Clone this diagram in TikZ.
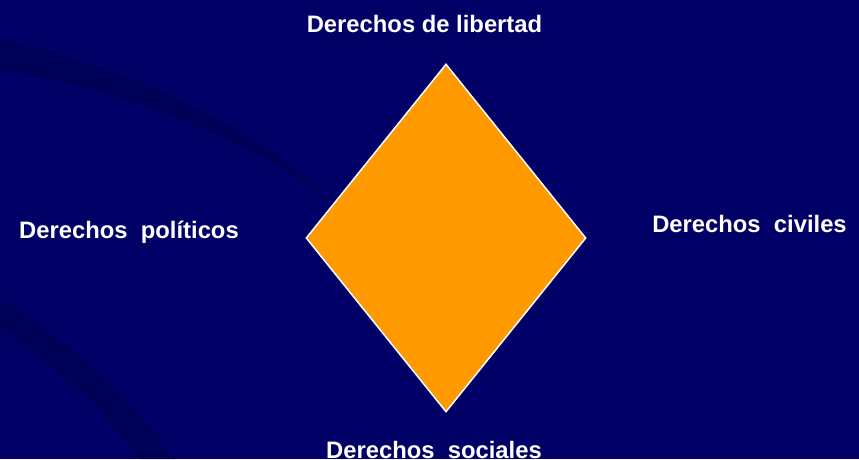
\documentclass[tikz,border=0pt]{standalone}
\usepackage{fontspec}
\setmainfont{Liberation Sans}
\usepackage{tikz}
\usetikzlibrary{shapes.geometric}
\definecolor{fondo}{RGB}{0,0,102}
\definecolor{sombra}{RGB}{0,0,78}
\definecolor{naranja}{RGB}{255,153,0}
\tikzstyle{rombo} = [diamond, minimum width=280pt, minimum height=348pt, inner sep=0pt, draw=white, line width=1.5pt, fill=naranja]
\tikzstyle{etiqueta} = [anchor=base, inner sep=0pt, text=white, font=\fontsize{23.8}{28}\selectfont\bfseries]

\begin{document}
\begin{tikzpicture}[x=1pt, y=-1pt]
        \fill [fondo] (0,0) rectangle (859,459); %fondo
        \useasboundingbox (0,0) rectangle (859,459);
        \fill [sombra, opacity=0.6] (0,40) .. controls (140,70) and (260,130) .. (335,205) .. controls (250,140) and (130,90) .. (0,70) -- cycle;
        \fill [sombra, opacity=0.6] (0,300) .. controls (70,340) and (130,400) .. (175,459) -- (140,459) .. controls (100,405) and (50,360) .. (0,330) -- cycle;
        \node (rombo) [rombo] at (446,238) {};
        \node (libertad) [etiqueta] at (424.5,32) {Derechos de libertad};
        \node (politicos) [etiqueta] at (129,238) {Derechos\ \ políticos};
        \node (civiles) [etiqueta] at (749.5,232) {Derechos\ \ civiles};
        \node (sociales) [etiqueta] at (434,458) {Derechos\ \ sociales};
    \end{tikzpicture}
\end{document}
